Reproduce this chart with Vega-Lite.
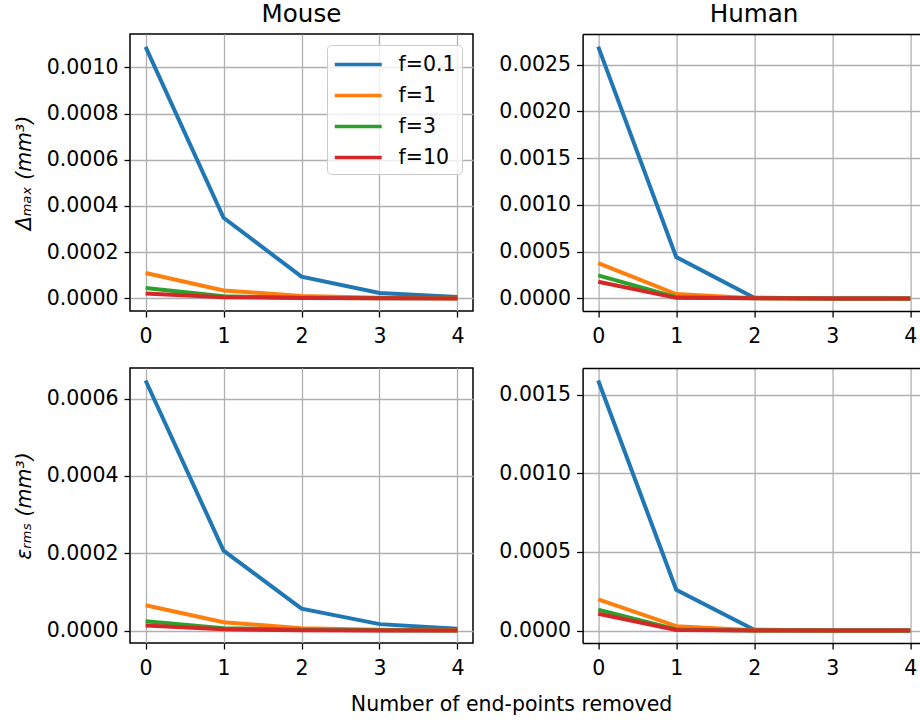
{
  "$schema": "https://vega.github.io/schema/vega-lite/v6.json",
  "background": "white",
  "padding": {"left": 13, "top": 1, "right": 0, "bottom": 2},
  "bounds": "flush",
  "columns": 2,
  "spacing": {"row": 57, "column": 109.6},
  "config": {
    "font": "DejaVu Sans",
    "view": {"stroke": "black", "strokeWidth": 1.5},
    "axis": {
      "labelFont": "DejaVu Sans",
      "labelFontSize": 20.5,
      "labelColor": "black",
      "labelPadding": 6,
      "titleFont": "DejaVu Sans",
      "titleFontSize": 20.5,
      "titleFontWeight": "normal",
      "titleColor": "black",
      "titlePadding": 12,
      "tickColor": "black",
      "tickSize": 6,
      "tickWidth": 1.3,
      "domainColor": "black",
      "domainWidth": 1.5,
      "gridColor": "#b0b0b0",
      "gridWidth": 1.3
    },
    "axisX": {"labelPadding": 9}
  },
  "title": {
    "text": "Number of end-points removed",
    "orient": "bottom",
    "anchor": "middle",
    "font": "DejaVu Sans",
    "fontSize": 20.5,
    "fontWeight": "normal",
    "color": "black",
    "offset": 16,
    "dx": 45
  },
  "data": {
    "values": [
      {"species": "Mouse", "metric": "max", "f": "f=0.1", "n": 0, "v": 0.001089},
      {"species": "Mouse", "metric": "max", "f": "f=0.1", "n": 1, "v": 0.000349},
      {"species": "Mouse", "metric": "max", "f": "f=0.1", "n": 2, "v": 0.0000942},
      {"species": "Mouse", "metric": "max", "f": "f=0.1", "n": 3, "v": 0.0000234},
      {"species": "Mouse", "metric": "max", "f": "f=0.1", "n": 4, "v": 0.000006},
      {"species": "Mouse", "metric": "max", "f": "f=1", "n": 0, "v": 0.00011},
      {"species": "Mouse", "metric": "max", "f": "f=1", "n": 1, "v": 0.0000347},
      {"species": "Mouse", "metric": "max", "f": "f=1", "n": 2, "v": 0.0000104},
      {"species": "Mouse", "metric": "max", "f": "f=1", "n": 3, "v": 0.000003},
      {"species": "Mouse", "metric": "max", "f": "f=1", "n": 4, "v": 0.000001},
      {"species": "Mouse", "metric": "max", "f": "f=3", "n": 0, "v": 0.000045},
      {"species": "Mouse", "metric": "max", "f": "f=3", "n": 1, "v": 0.000009},
      {"species": "Mouse", "metric": "max", "f": "f=3", "n": 2, "v": 0.000003},
      {"species": "Mouse", "metric": "max", "f": "f=3", "n": 3, "v": 0.000001},
      {"species": "Mouse", "metric": "max", "f": "f=3", "n": 4, "v": 0.0000003},
      {"species": "Mouse", "metric": "max", "f": "f=10", "n": 0, "v": 0.0000217},
      {"species": "Mouse", "metric": "max", "f": "f=10", "n": 1, "v": 0.000005},
      {"species": "Mouse", "metric": "max", "f": "f=10", "n": 2, "v": 0.0000015},
      {"species": "Mouse", "metric": "max", "f": "f=10", "n": 3, "v": 0.0000005},
      {"species": "Mouse", "metric": "max", "f": "f=10", "n": 4, "v": 0.0000001},
      {"species": "Human", "metric": "max", "f": "f=0.1", "n": 0, "v": 0.002693},
      {"species": "Human", "metric": "max", "f": "f=0.1", "n": 1, "v": 0.000442},
      {"species": "Human", "metric": "max", "f": "f=0.1", "n": 2, "v": 0.000008},
      {"species": "Human", "metric": "max", "f": "f=0.1", "n": 3, "v": 0.0000002},
      {"species": "Human", "metric": "max", "f": "f=0.1", "n": 4, "v": 0},
      {"species": "Human", "metric": "max", "f": "f=1", "n": 0, "v": 0.000378},
      {"species": "Human", "metric": "max", "f": "f=1", "n": 1, "v": 0.000046},
      {"species": "Human", "metric": "max", "f": "f=1", "n": 2, "v": 0.000003},
      {"species": "Human", "metric": "max", "f": "f=1", "n": 3, "v": 0},
      {"species": "Human", "metric": "max", "f": "f=1", "n": 4, "v": 0},
      {"species": "Human", "metric": "max", "f": "f=3", "n": 0, "v": 0.000246},
      {"species": "Human", "metric": "max", "f": "f=3", "n": 1, "v": 0.000012},
      {"species": "Human", "metric": "max", "f": "f=3", "n": 2, "v": 0.000001},
      {"species": "Human", "metric": "max", "f": "f=3", "n": 3, "v": 0},
      {"species": "Human", "metric": "max", "f": "f=3", "n": 4, "v": 0},
      {"species": "Human", "metric": "max", "f": "f=10", "n": 0, "v": 0.000178},
      {"species": "Human", "metric": "max", "f": "f=10", "n": 1, "v": 0.000006},
      {"species": "Human", "metric": "max", "f": "f=10", "n": 2, "v": 0.0000005},
      {"species": "Human", "metric": "max", "f": "f=10", "n": 3, "v": 0},
      {"species": "Human", "metric": "max", "f": "f=10", "n": 4, "v": 0},
      {"species": "Mouse", "metric": "rms", "f": "f=0.1", "n": 0, "v": 0.000647},
      {"species": "Mouse", "metric": "rms", "f": "f=0.1", "n": 1, "v": 0.0002067},
      {"species": "Mouse", "metric": "rms", "f": "f=0.1", "n": 2, "v": 0.0000566},
      {"species": "Mouse", "metric": "rms", "f": "f=0.1", "n": 3, "v": 0.0000165},
      {"species": "Mouse", "metric": "rms", "f": "f=0.1", "n": 4, "v": 0.0000044},
      {"species": "Mouse", "metric": "rms", "f": "f=1", "n": 0, "v": 0.0000653},
      {"species": "Mouse", "metric": "rms", "f": "f=1", "n": 1, "v": 0.0000216},
      {"species": "Mouse", "metric": "rms", "f": "f=1", "n": 2, "v": 0.000006},
      {"species": "Mouse", "metric": "rms", "f": "f=1", "n": 3, "v": 0.0000018},
      {"species": "Mouse", "metric": "rms", "f": "f=1", "n": 4, "v": 0.0000005},
      {"species": "Mouse", "metric": "rms", "f": "f=3", "n": 0, "v": 0.0000242},
      {"species": "Mouse", "metric": "rms", "f": "f=3", "n": 1, "v": 0.000006},
      {"species": "Mouse", "metric": "rms", "f": "f=3", "n": 2, "v": 0.0000018},
      {"species": "Mouse", "metric": "rms", "f": "f=3", "n": 3, "v": 0.0000005},
      {"species": "Mouse", "metric": "rms", "f": "f=3", "n": 4, "v": 0.0000001},
      {"species": "Mouse", "metric": "rms", "f": "f=10", "n": 0, "v": 0.0000129},
      {"species": "Mouse", "metric": "rms", "f": "f=10", "n": 1, "v": 0.000003},
      {"species": "Mouse", "metric": "rms", "f": "f=10", "n": 2, "v": 0.0000009},
      {"species": "Mouse", "metric": "rms", "f": "f=10", "n": 3, "v": 0.0000003},
      {"species": "Mouse", "metric": "rms", "f": "f=10", "n": 4, "v": 0.0000001},
      {"species": "Human", "metric": "rms", "f": "f=0.1", "n": 0, "v": 0.00159},
      {"species": "Human", "metric": "rms", "f": "f=0.1", "n": 1, "v": 0.000259},
      {"species": "Human", "metric": "rms", "f": "f=0.1", "n": 2, "v": 0.000005},
      {"species": "Human", "metric": "rms", "f": "f=0.1", "n": 3, "v": 0.0000001},
      {"species": "Human", "metric": "rms", "f": "f=0.1", "n": 4, "v": 0},
      {"species": "Human", "metric": "rms", "f": "f=1", "n": 0, "v": 0.000198},
      {"species": "Human", "metric": "rms", "f": "f=1", "n": 1, "v": 0.0000278},
      {"species": "Human", "metric": "rms", "f": "f=1", "n": 2, "v": 0.000002},
      {"species": "Human", "metric": "rms", "f": "f=1", "n": 3, "v": 0},
      {"species": "Human", "metric": "rms", "f": "f=1", "n": 4, "v": 0},
      {"species": "Human", "metric": "rms", "f": "f=3", "n": 0, "v": 0.000133},
      {"species": "Human", "metric": "rms", "f": "f=3", "n": 1, "v": 0.000007},
      {"species": "Human", "metric": "rms", "f": "f=3", "n": 2, "v": 0.0000005},
      {"species": "Human", "metric": "rms", "f": "f=3", "n": 3, "v": 0},
      {"species": "Human", "metric": "rms", "f": "f=3", "n": 4, "v": 0},
      {"species": "Human", "metric": "rms", "f": "f=10", "n": 0, "v": 0.000107},
      {"species": "Human", "metric": "rms", "f": "f=10", "n": 1, "v": 0.000003},
      {"species": "Human", "metric": "rms", "f": "f=10", "n": 2, "v": 0.0000003},
      {"species": "Human", "metric": "rms", "f": "f=10", "n": 3, "v": 0},
      {"species": "Human", "metric": "rms", "f": "f=10", "n": 4, "v": 0}
    ]
  },
  "resolve": {
    "scale": {"y": "independent", "color": "independent"},
    "legend": {"color": "independent"}
  },
  "concat": [
    {
      "width": 343,
      "height": 277,
      "title": {"text": "Mouse", "fontSize": 24.6, "fontWeight": "normal", "font": "DejaVu Sans", "color": "black", "offset": 6},
      "transform": [{"filter": "datum.species === 'Mouse' && datum.metric === 'max'"}],
      "mark": {"type": "line", "strokeWidth": 4},
      "encoding": {
        "x": {"field": "n", "type": "quantitative",
              "scale": {"domain": [-0.2, 4.2], "nice": false, "zero": false},
              "axis": {"values": [0, 1, 2, 3, 4], "format": "d", "title": null, "domain": false}},
        "y": {"field": "v", "type": "quantitative",
              "scale": {"domain": [-0.0000545, 0.0011445], "nice": false, "zero": false},
              "axis": {"values": [0, 0.0002, 0.0004, 0.0006, 0.0008, 0.001], "format": ".4f", "title": "Δₘₐₓ (mm³)", "titleFontStyle": "italic", "domain": false}},
        "color": {"field": "f", "type": "nominal",
                  "scale": {"domain": ["f=0.1", "f=1", "f=3", "f=10"], "range": ["#1f77b4", "#ff7f0e", "#2ca02c", "#d62728"]},
                  "legend": {"title": null, "orient": "top-right", "offset": 11,
                             "symbolType": "M-1,0L3,0", "symbolSize": 552, "symbolStrokeWidth": 3.5,
                             "labelFont": "DejaVu Sans", "labelFontSize": 20.5, "labelColor": "black", "labelOffset": 38.5,
                             "rowPadding": 7, "padding": 6,
                             "strokeColor": "#cccccc", "fillColor": "rgba(255,255,255,0.8)", "cornerRadius": 4}}
      }
    },
    {
      "width": 337,
      "height": 277,
      "view": {"stroke": null},
      "title": {"text": "Human", "fontSize": 24.6, "fontWeight": "normal", "font": "DejaVu Sans", "color": "black", "offset": 6, "dx": 3},
      "transform": [{"filter": "datum.species === 'Human' && datum.metric === 'max'"}],
      "layer": [
        {
          "mark": {"type": "line", "strokeWidth": 4},
          "encoding": {
            "x": {"field": "n", "type": "quantitative",
                  "scale": {"domain": [-0.2, 4.12], "nice": false, "zero": false},
                  "axis": {"values": [0, 1, 2, 3, 4], "format": "d", "title": null, "domain": true}},
            "y": {"field": "v", "type": "quantitative",
                  "scale": {"domain": [-0.0001347, 0.0028277], "nice": false, "zero": false},
                  "axis": {"values": [0, 0.0005, 0.001, 0.0015, 0.002, 0.0025], "format": ".4f", "title": null, "domain": true}},
            "color": {"field": "f", "type": "nominal",
                      "scale": {"domain": ["f=0.1", "f=1", "f=3", "f=10"], "range": ["#1f77b4", "#ff7f0e", "#2ca02c", "#d62728"]},
                      "legend": null}
          }
        },
        {
          "mark": {"type": "point", "opacity": 0},
          "encoding": {
            "x": {"field": "n", "type": "quantitative",
                  "axis": {"orient": "top", "labels": false, "ticks": false, "grid": false, "title": null, "domain": true}}
          }
        }
      ],
      "resolve": {"axis": {"x": "independent"}}
    },
    {
      "width": 343,
      "height": 275,
      "transform": [{"filter": "datum.species === 'Mouse' && datum.metric === 'rms'"}],
      "mark": {"type": "line", "strokeWidth": 4},
      "encoding": {
        "x": {"field": "n", "type": "quantitative",
              "scale": {"domain": [-0.2, 4.2], "nice": false, "zero": false},
              "axis": {"values": [0, 1, 2, 3, 4], "format": "d", "title": null, "domain": false}},
        "y": {"field": "v", "type": "quantitative",
              "scale": {"domain": [-0.00003235, 0.00067935], "nice": false, "zero": false},
              "axis": {"values": [0, 0.0002, 0.0004, 0.0006], "format": ".4f", "title": "εᵣₘₛ (mm³)", "titleFontStyle": "italic", "domain": false}},
        "color": {"field": "f", "type": "nominal",
                  "scale": {"domain": ["f=0.1", "f=1", "f=3", "f=10"], "range": ["#1f77b4", "#ff7f0e", "#2ca02c", "#d62728"]},
                  "legend": null}
      }
    },
    {
      "width": 337,
      "height": 275,
      "view": {"stroke": null},
      "transform": [{"filter": "datum.species === 'Human' && datum.metric === 'rms'"}],
      "layer": [
        {
          "mark": {"type": "line", "strokeWidth": 4},
          "encoding": {
            "x": {"field": "n", "type": "quantitative",
                  "scale": {"domain": [-0.2, 4.12], "nice": false, "zero": false},
                  "axis": {"values": [0, 1, 2, 3, 4], "format": "d", "title": null, "domain": true}},
            "y": {"field": "v", "type": "quantitative",
                  "scale": {"domain": [-0.0000795, 0.0016695], "nice": false, "zero": false},
                  "axis": {"values": [0, 0.0005, 0.001, 0.0015], "format": ".4f", "title": null, "domain": true}},
            "color": {"field": "f", "type": "nominal",
                      "scale": {"domain": ["f=0.1", "f=1", "f=3", "f=10"], "range": ["#1f77b4", "#ff7f0e", "#2ca02c", "#d62728"]},
                      "legend": null}
          }
        },
        {
          "mark": {"type": "point", "opacity": 0},
          "encoding": {
            "x": {"field": "n", "type": "quantitative",
                  "axis": {"orient": "top", "labels": false, "ticks": false, "grid": false, "title": null, "domain": true}}
          }
        }
      ],
      "resolve": {"axis": {"x": "independent"}}
    }
  ]
}
